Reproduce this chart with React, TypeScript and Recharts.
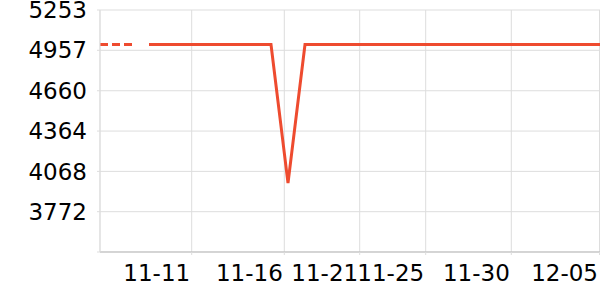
import { CartesianGrid, Line, LineChart, XAxis, YAxis } from "recharts";

// x is a position along the time axis (0 = left edge, 50 = right edge)
const dashedX = [0, 3.2];
const dashedValues = [5000, 5000];

const solidX = [4.9, 17.1, 18.8, 20.5, 50];
const solidValues = [5000, 5000, 3982, 5000, 5000];

const xTicks = [9.17, 18.43, 25.97, 32.57, 41.13, 49.95];
const xLabels = ["11-11", "11-16", "11-21", "11-25", "11-30", "12-05"];

const yTicks = [3476, 3772, 4068, 4364, 4660, 4957, 5253];
const yLabels = ["", "3772", "4068", "4364", "4660", "4957", "5253"];

const dashedData = dashedX.map((x, i) => ({ x, v: dashedValues[i] }));
const solidData = solidX.map((x, i) => ({ x, v: solidValues[i] }));

const FONT = "DejaVu Sans, sans-serif";
const LINE_COLOR = "#ee4b2f";

function XTick({ x, y, payload }: any) {
  const i = xTicks.indexOf(payload.value);
  return (
    <text
      x={x - 1.5}
      y={y}
      dy="0.71em"
      textAnchor="end"
      fontFamily={FONT}
      fontSize={23}
      fill="#000"
    >
      {xLabels[i]}
    </text>
  );
}

export default function App() {
  return (
    <div style={{ position: "absolute", left: 0, top: 0, background: "#fff" }}>
      <LineChart
        width={600}
        height={300}
        margin={{ top: 10, right: 0, left: 0, bottom: 0 }}
      >
        <CartesianGrid stroke="#dddddd" strokeWidth={1} />
        <XAxis
          type="number"
          dataKey="x"
          domain={[0, 50]}
          ticks={xTicks}
          allowDataOverflow
          height={48}
          stroke="#bbbbbb"
          tickLine={{ stroke: "#dddddd" }}
          tickSize={3}
          tickMargin={10}
          tick={<XTick />}
          interval={0}
        />
        <YAxis
          type="number"
          domain={[3476, 5253]}
          ticks={yTicks}
          width={100}
          interval={0}
          stroke="#dddddd"
          tickSize={3}
          tickMargin={10}
          tickFormatter={(v: number) => yLabels[yTicks.indexOf(v)]}
          tick={{ fontFamily: FONT, fontSize: 23, fill: "#000" }}
        />
        <Line
          data={dashedData}
          dataKey="v"
          type="linear"
          stroke={LINE_COLOR}
          strokeWidth={3}
          strokeDasharray="8 4"
          dot={false}
          activeDot={false}
          isAnimationActive={false}
        />
        <Line
          data={solidData}
          dataKey="v"
          type="linear"
          stroke={LINE_COLOR}
          strokeWidth={3}
          dot={false}
          activeDot={false}
          isAnimationActive={false}
        />
      </LineChart>
    </div>
  );
}
